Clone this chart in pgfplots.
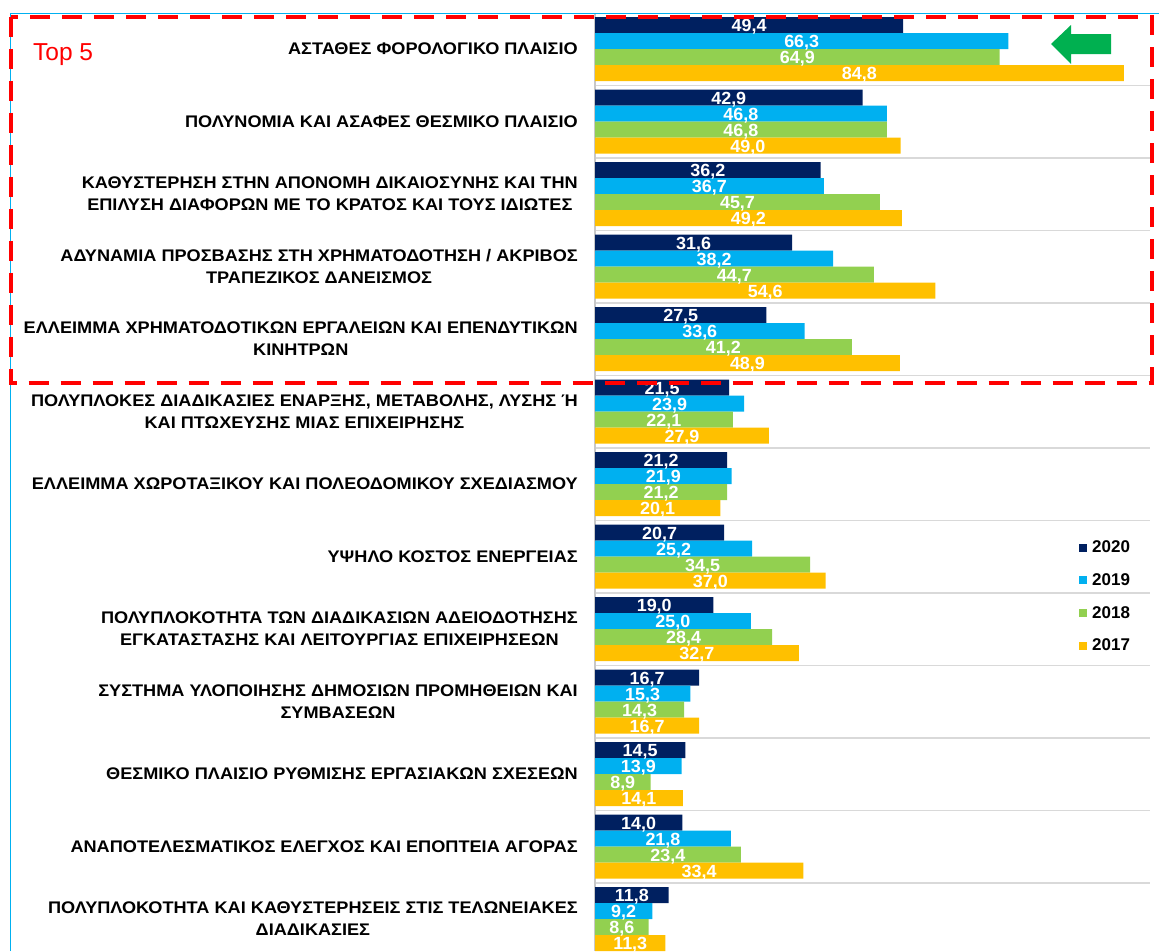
\documentclass[border=0pt]{standalone}
\usepackage{pgfplots}
\pgfplotsset{compat=1.18}
\usepackage{fontspec}
\setmainfont{Liberation Sans}
\newfontfamily\labfont[FakeStretch=1.08]{Liberation Sans}
\newfontfamily\valfont[FakeStretch=1.02]{Liberation Sans}
\definecolor{cA}{HTML}{002060}
\definecolor{cB}{HTML}{00B0F0}
\definecolor{cC}{HTML}{92D050}
\definecolor{cD}{HTML}{FFC000}
\definecolor{gridgray}{HTML}{D9D9D9}
\definecolor{axisgray}{HTML}{C8C8C8}
\definecolor{frameblue}{HTML}{00B0F0}
\definecolor{arrowgreen}{HTML}{00B050}
\begin{document}
\begin{tikzpicture}
\useasboundingbox (0pt,0pt) rectangle (1159pt,-951pt);
\begin{axis}[
  at={(595pt,-951pt)}, anchor=south west,
  x=6.236pt, y=72.5pt,
  xmin=0, xmax=89, ymin=-0.441, ymax=12.5,
  axis x line=none,
  axis y line*=left,
  y axis line style={draw=axisgray, line width=1.5pt},
  xtick=\empty,
  ytick={0,...,12},
  yticklabels={
    {ΠΟΛΥΠΛΟΚΟΤΗΤΑ ΚΑΙ ΚΑΘΥΣΤΕΡΗΣΕΙΣ ΣΤΙΣ ΤΕΛΩΝΕΙΑΚΕΣ\\ΔΙΑΔΙΚΑΣΙΕΣ},
    {ΑΝΑΠΟΤΕΛΕΣΜΑΤΙΚΟΣ ΕΛΕΓΧΟΣ ΚΑΙ ΕΠΟΠΤΕΙΑ ΑΓΟΡΑΣ},
    {ΘΕΣΜΙΚΟ ΠΛΑΙΣΙΟ ΡΥΘΜΙΣΗΣ ΕΡΓΑΣΙΑΚΩΝ ΣΧΕΣΕΩΝ},
    {ΣΥΣΤΗΜΑ ΥΛΟΠΟΙΗΣΗΣ ΔΗΜΟΣΙΩΝ ΠΡΟΜΗΘΕΙΩΝ ΚΑΙ\\ΣΥΜΒΑΣΕΩΝ},
    {ΠΟΛΥΠΛΟΚΟΤΗΤΑ ΤΩΝ ΔΙΑΔΙΚΑΣΙΩΝ ΑΔΕΙΟΔΟΤΗΣΗΣ\\ΕΓΚΑΤΑΣΤΑΣΗΣ ΚΑΙ ΛΕΙΤΟΥΡΓΙΑΣ ΕΠΙΧΕΙΡΗΣΕΩΝ},
    {ΥΨΗΛΟ ΚΟΣΤΟΣ ΕΝΕΡΓΕΙΑΣ},
    {ΕΛΛΕΙΜΜΑ ΧΩΡΟΤΑΞΙΚΟΥ ΚΑΙ ΠΟΛΕΟΔΟΜΙΚΟΥ ΣΧΕΔΙΑΣΜΟΥ},
    {ΠΟΛΥΠΛΟΚΕΣ ΔΙΑΔΙΚΑΣΙΕΣ ΕΝΑΡΞΗΣ, ΜΕΤΑΒΟΛΗΣ, ΛΥΣΗΣ Ή\\ΚΑΙ ΠΤΩΧΕΥΣΗΣ ΜΙΑΣ ΕΠΙΧΕΙΡΗΣΗΣ},
    {ΕΛΛΕΙΜΜΑ ΧΡΗΜΑΤΟΔΟΤΙΚΩΝ ΕΡΓΑΛΕΙΩΝ ΚΑΙ ΕΠΕΝΔΥΤΙΚΩΝ\\ΚΙΝΗΤΡΩΝ},
    {ΑΔΥΝΑΜΙΑ ΠΡΟΣΒΑΣΗΣ ΣΤΗ ΧΡΗΜΑΤΟΔΟΤΗΣΗ / ΑΚΡΙΒΟΣ\\ΤΡΑΠΕΖΙΚΟΣ ΔΑΝΕΙΣΜΟΣ},
    {ΚΑΘΥΣΤΕΡΗΣΗ ΣΤΗΝ ΑΠΟΝΟΜΗ ΔΙΚΑΙΟΣΥΝΗΣ ΚΑΙ ΤΗΝ\\ΕΠΙΛΥΣΗ ΔΙΑΦΟΡΩΝ ΜΕ ΤΟ ΚΡΑΤΟΣ ΚΑΙ ΤΟΥΣ ΙΔΙΩΤΕΣ},
    {ΠΟΛΥΝΟΜΙΑ ΚΑΙ ΑΣΑΦΕΣ ΘΕΣΜΙΚΟ ΠΛΑΙΣΙΟ},
    {ΑΣΤΑΘΕΣ ΦΟΡΟΛΟΓΙΚΟ ΠΛΑΙΣΙΟ}},
  major tick length=0pt, minor tick length=0pt,
  minor ytick={0.5,1.5,...,11.5},
  yminorgrids, minor grid style={draw=gridgray, line width=1.5pt},
  yticklabel style={anchor=east, inner sep=0pt, xshift=-17pt, align=center,
    font=\labfont\bfseries\fontsize{16.8}{22}\selectfont},
  point meta=x,
  nodes near coords={\pgfmathprintnumber[fixed,fixed zerofill,precision=1,use comma,assume math mode=true]{\pgfplotspointmeta}},
  visualization depends on={rawx \as \rawx},
  every node near coord/.style={anchor=center, inner sep=0pt, xshift={-\rawx*3.118pt},
    text=white, font=\valfont\bfseries\fontsize{17.6}{17.6}\selectfont},
  legend style={at={(axis cs:77.62,5.245)}, anchor=north west, draw=none, fill=none, inner sep=0pt,
    font=\bfseries\fontsize{17}{17}\selectfont, row sep=15.3pt},
  legend cell align=left,
  legend image code/.code={\fill[#1] (0pt,-4pt) rectangle (8pt,4pt); \path (11pt,0pt);},
]
\addplot[xbar, bar width=16pt, bar shift=24pt, fill=cA, draw=none,
  every node near coord/.append style={yshift=22pt}] coordinates {
 (49.4,12) (42.9,11) (36.2,10) (31.6,9) (27.5,8) (21.5,7) (21.2,6) (20.7,5) (19.0,4) (16.7,3) (14.5,2) (14.0,1) (11.8,0)};
\addlegendentry{2020}
\addplot[xbar, bar width=16pt, bar shift=8pt, fill=cB, draw=none,
  every node near coord/.append style={yshift=6pt}] coordinates {
 (66.3,12) (46.8,11) (36.7,10) (38.2,9) (33.6,8) (23.9,7) (21.9,6) (25.2,5) (25.0,4) (15.3,3) (13.9,2) (21.8,1) (9.2,0)};
\addlegendentry{2019}
\addplot[xbar, bar width=16pt, bar shift=-8pt, fill=cC, draw=none,
  every node near coord/.append style={yshift=-10pt}] coordinates {
 (64.9,12) (46.8,11) (45.7,10) (44.7,9) (41.2,8) (22.1,7) (21.2,6) (34.5,5) (28.4,4) (14.3,3) (8.9,2) (23.4,1) (8.6,0)};
\addlegendentry{2018}
\addplot[xbar, bar width=16pt, bar shift=-24pt, fill=cD, draw=none,
  every node near coord/.append style={yshift=-26pt}] coordinates {
 (84.8,12) (49.0,11) (49.2,10) (54.6,9) (48.9,8) (27.9,7) (20.1,6) (37.0,5) (32.7,4) (16.7,3) (14.1,2) (33.4,1) (11.3,0)};
\addlegendentry{2017}
\end{axis}
\draw[frameblue, line width=1.5pt] (10.5pt,-951pt) -- (10.5pt,-13.3pt) -- (1159pt,-13.3pt);
\draw[red, line width=4pt, dash pattern=on 20pt off 12pt] (10.5pt,-17pt) rectangle (1152pt,-383pt);
\node[anchor=west, text=red, inner sep=0pt, font=\fontsize{24.5}{24.5}\selectfont] at (33pt,-55pt) {Top 5};
\fill[arrowgreen] (1051pt,-44pt) -- (1071pt,-25pt) -- (1071pt,-34pt) -- (1111pt,-34pt) -- (1111pt,-54pt) -- (1071pt,-54pt) -- (1071pt,-64pt) -- cycle;
\end{tikzpicture}
\end{document}
